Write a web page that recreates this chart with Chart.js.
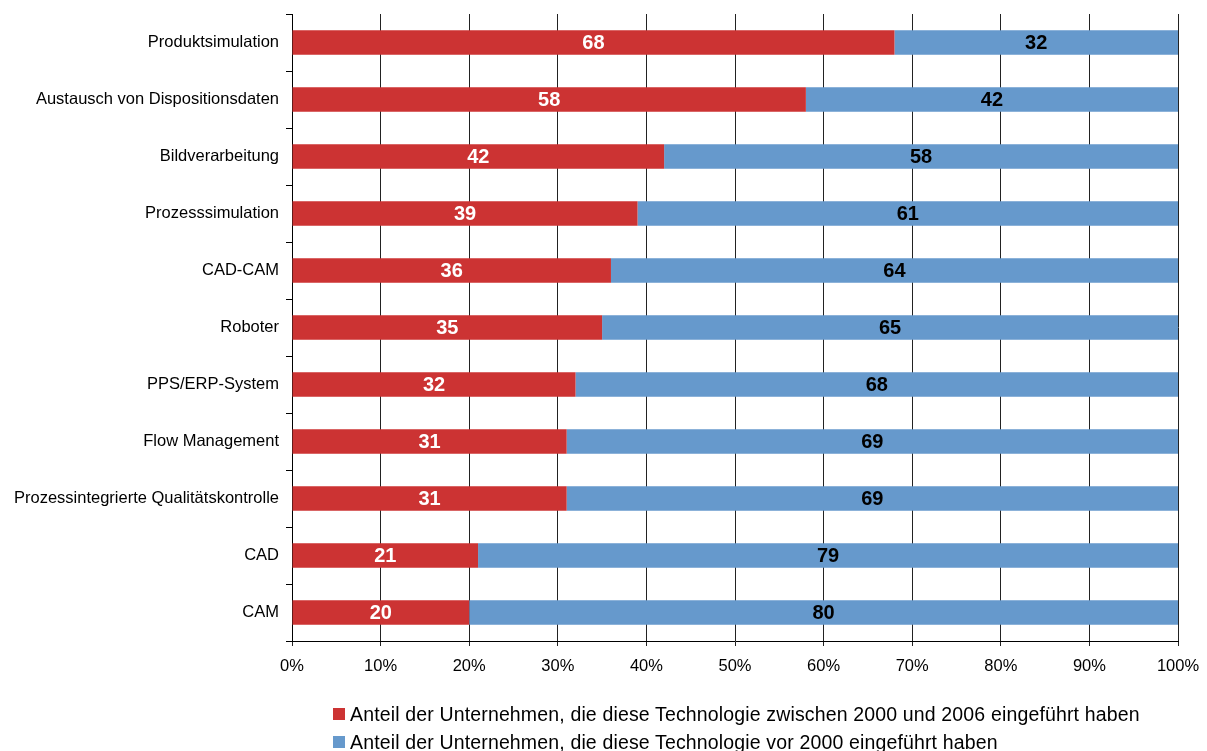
<!DOCTYPE html>
<html>
<head>
<meta charset="utf-8">
<script src="https://cdn.jsdelivr.net/npm/chart.js@4/dist/chart.umd.min.js"></script>
<style>
  html, body { margin: 0; padding: 0; background: #fff; }
  #wrap { position: relative; width: 1207px; height: 751px; }
  #legend {
    position: absolute; left: 333px; top: 700px;
    font-family: "Liberation Sans", Arial, sans-serif; font-size: 19.5px;
    letter-spacing: 0.15px; color: #000; white-space: nowrap;
  }
  #legend .row { display: flex; align-items: center; height: 28px; }
  #legend .box { width: 12px; height: 12px; margin-right: 5px; }
</style>
</head>
<body>
<div id="wrap">
  <canvas id="chart" width="1207" height="751"></canvas>
  <div id="legend"></div>
</div>
<script>
// Technologies, top to bottom
const technologies = [
    'Produktsimulation',
    'Austausch von Dispositionsdaten',
    'Bildverarbeitung',
    'Prozesssimulation',
    'CAD-CAM',
    'Roboter',
    'PPS/ERP-System',
    'Flow Management',
    'Prozessintegrierte Qualitätskontrolle',
    'CAD',
    'CAM'
];

// Share of companies (%) that introduced the technology 2000-2006
const since2000 = [68, 58, 42, 39, 36, 35, 32, 31, 31, 21, 20];
// Share of companies (%) that introduced it before 2000
const before2000 = [32, 42, 58, 61, 64, 65, 68, 69, 69, 79, 80];

const seriesNames = [
    'Anteil der Unternehmen, die diese Technologie zwischen 2000 und 2006 eingeführt haben',
    'Anteil der Unternehmen, die diese Technologie vor 2000 eingeführt haben'
];

const xTicks = [0, 10, 20, 30, 40, 50, 60, 70, 80, 90, 100];

const RED = '#CC3333';
const BLUE = '#6699CC';
const FONT = '"Liberation Sans", Arial, sans-serif';

// Draws the value of each segment centred inside the bar
const barValues = {
    id: 'barValues',
    afterDatasetsDraw(chart) {
        const ctx = chart.ctx;
        ctx.save();
        ctx.font = 'bold 20px ' + FONT;
        ctx.textAlign = 'center';
        ctx.textBaseline = 'middle';
        chart.data.datasets.forEach((ds, i) => {
            const meta = chart.getDatasetMeta(i);
            meta.data.forEach((bar, j) => {
                ctx.fillStyle = i === 0 ? '#ffffff' : '#000000';
                ctx.fillText(String(ds.data[j]), (bar.x + bar.base) / 2, bar.y + 1);
            });
        });
        ctx.restore();
    }
};

const chart = new Chart(document.getElementById('chart'), {
    type: 'bar',
    data: {
        labels: technologies,
        datasets: [{
            label: seriesNames[0],
            data: since2000,
            backgroundColor: RED
        }, {
            label: seriesNames[1],
            data: before2000,
            backgroundColor: BLUE
        }]
    },
    options: {
        indexAxis: 'y',
        responsive: false,
        animation: false,
        layout: {
            padding: { top: 14, right: 29, left: 0, bottom: 0 }
        },
        datasets: {
            bar: {
                categoryPercentage: 1,
                barPercentage: 0.43
            }
        },
        scales: {
            x: {
                stacked: true,
                min: 0,
                max: 100,
                afterBuildTicks: (scale) => {
                    scale.ticks = xTicks.map(v => ({ value: v }));
                },
                afterFit: (scale) => {
                    scale.height = 110;
                    // let the outer layout padding decide the edges
                    scale.paddingLeft = 0;
                    scale.paddingRight = 0;
                },
                grid: {
                    color: '#222',
                    lineWidth: 1,
                    drawTicks: true,
                    tickLength: 5,
                    tickColor: '#222'
                },
                border: { color: '#000' },
                ticks: {
                    color: '#000',
                    padding: 11,
                    maxRotation: 0,
                    font: { family: FONT, size: 16.5 },
                    callback: (v) => v + '%'
                }
            },
            y: {
                stacked: true,
                afterFit: (scale) => {
                    scale.width = 292;
                    scale.paddingTop = 0;
                    scale.paddingBottom = 0;
                },
                grid: {
                    drawOnChartArea: false,
                    drawTicks: true,
                    tickLength: 6,
                    color: '#000',
                    offset: true
                },
                border: { color: '#000' },
                ticks: {
                    color: '#000',
                    padding: 7,
                    font: { family: FONT, size: 16.5 }
                }
            }
        },
        plugins: {
            legend: { display: false },
            tooltip: { enabled: false }
        }
    },
    plugins: [barValues]
});

// Legend below the chart, one series per row
const legend = document.getElementById('legend');
chart.data.datasets.forEach(ds => {
    const row = document.createElement('div');
    row.className = 'row';
    row.innerHTML = '<span class="box" style="background:' + ds.backgroundColor + '"></span><span>' + ds.label + '</span>';
    legend.appendChild(row);
});
</script>
</body>
</html>
